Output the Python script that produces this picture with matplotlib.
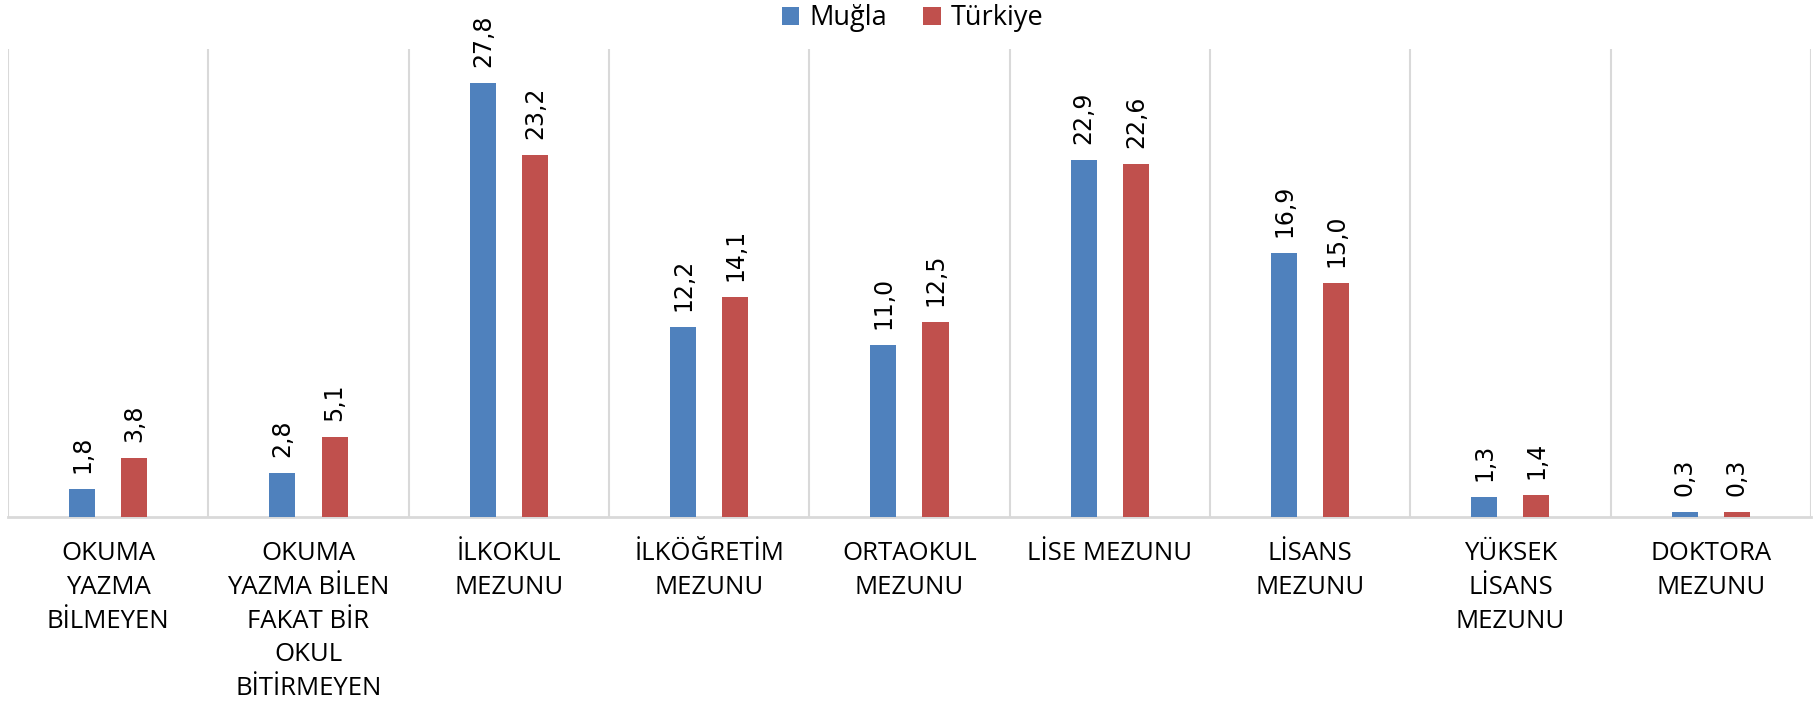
import numpy as np
import matplotlib
matplotlib.use("Agg")
import matplotlib.pyplot as plt

categories = ["OKUMA\nYAZMA\nBİLMEYEN",
              "OKUMA\nYAZMA BİLEN\nFAKAT BİR\nOKUL\nBİTİRMEYEN",
              "İLKOKUL\nMEZUNU",
              "İLKÖĞRETİM\nMEZUNU",
              "ORTAOKUL\nMEZUNU",
              "LİSE MEZUNU",
              "LİSANS\nMEZUNU",
              "YÜKSEK\nLİSANS\nMEZUNU",
              "DOKTORA\nMEZUNU"]
mugla = [1.8, 2.8, 27.8, 12.2, 11.0, 22.9, 16.9, 1.3, 0.3]
turkiye = [3.8, 5.1, 23.2, 14.1, 12.5, 22.6, 15.0, 1.4, 0.3]
series_names = ["Muğla", "Türkiye"]

BLUE = "#4F81BD"
RED = "#C0504D"
GRID = "#D9D9D9"

fig = plt.figure(figsize=(18.18, 7.07), dpi=100)
ax = fig.add_axes([0.0044, 0.2687, 0.9917, 0.662])

n = len(categories)
x = np.arange(n)
w = 0.13
off = 0.13
b1 = ax.bar(x - off, mugla, w, color=BLUE, label=series_names[0], zorder=3)
b2 = ax.bar(x + off, turkiye, w, color=RED, label=series_names[1], zorder=3)

for bars, vals in ((b1, mugla), (b2, turkiye)):
    for r, v in zip(bars, vals):
        ax.annotate(f"{v:.1f}".replace(".", ","),
                    (r.get_x() + r.get_width() / 2, r.get_height()),
                    xytext=(0, 16), textcoords="offset pixels",
                    rotation=90, ha="center", va="bottom",
                    fontsize=17, family="DejaVu Sans", color="#000000")

ax.set_xlim(-0.5, n - 0.5)
ax.set_ylim(0, 30)
ax.set_yticks([])
ax.set_xticks(x)
ax.set_xticklabels(categories, family="Open Sans", fontsize=18.5, color="#000000",
                   linespacing=1.47)
ax.tick_params(axis="x", length=0, pad=17)
ax.set_xticks(np.arange(-0.5, n, 1), minor=True)
ax.tick_params(axis="x", which="minor", length=0)
ax.grid(which="minor", axis="x", color=GRID, linewidth=1.5, zorder=0)
for s in ("top", "left", "right"):
    ax.spines[s].set_visible(False)
ax.spines["bottom"].set_color(GRID)
ax.spines["bottom"].set_linewidth(2)

leg = fig.legend(handles=[b1, b2], loc="center", bbox_to_anchor=(0.502, 0.974),
                 ncol=2, frameon=False, prop={"family": "Open Sans", "size": 19.5},
                 handlelength=0.66, handleheight=0.66, handletextpad=0.38,
                 columnspacing=1.3)

fig.savefig("out.png", dpi=100)
